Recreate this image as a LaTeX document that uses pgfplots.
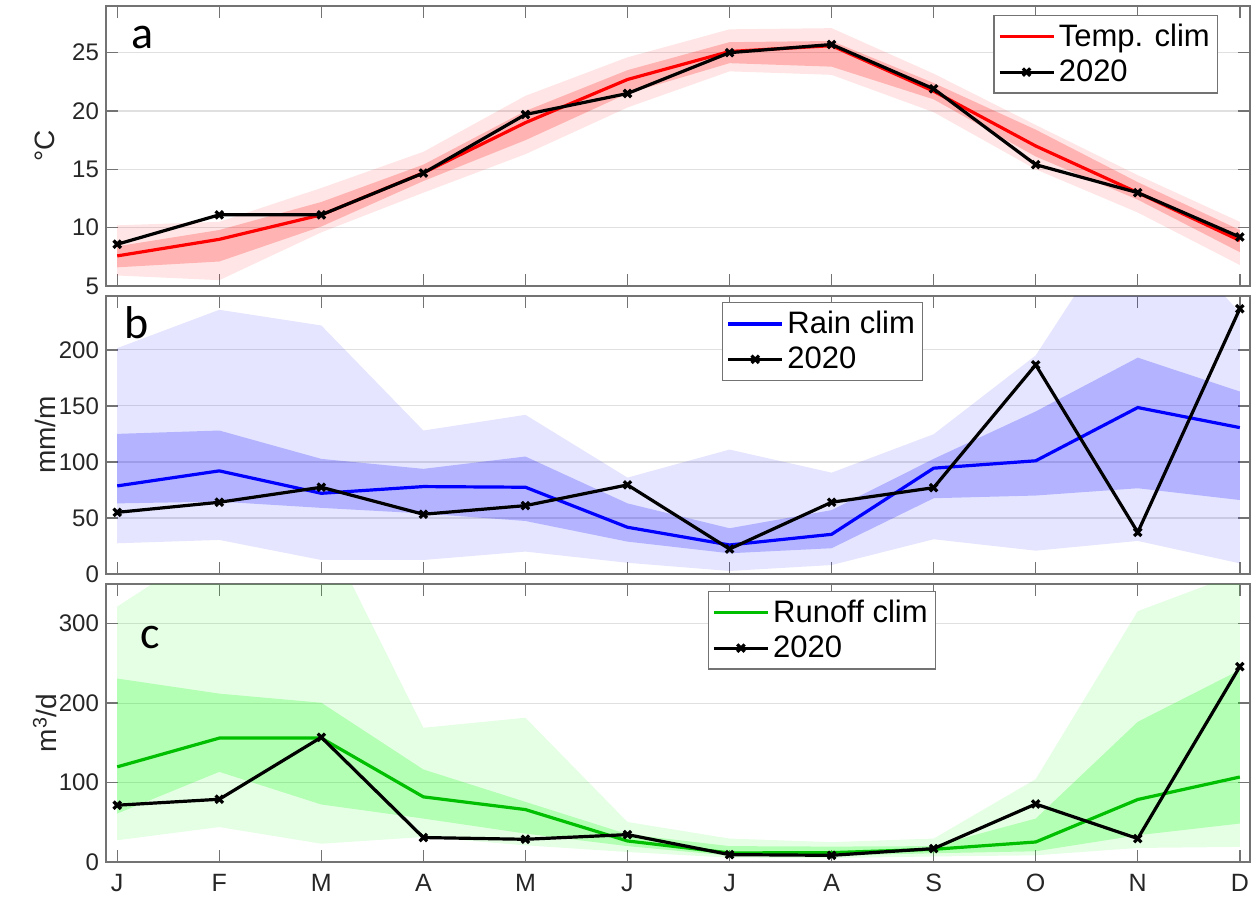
\documentclass[border=0pt]{standalone}
\usepackage{pgfplots}
\pgfplotsset{compat=1.18}
\usepackage{pgfplotstable}
\usepgfplotslibrary{fillbetween}
\usepackage{fontspec}
\setmainfont{Liberation Sans}
\newfontfamily\calib{Carlito}

\definecolor{rline}{rgb}{1,0,0}
\definecolor{bline}{rgb}{0,0,1}
\definecolor{gline}{rgb}{0,0.75,0}
\definecolor{gfill}{rgb}{0,1,0}
\definecolor{axgray}{rgb}{0.45,0.45,0.45}
\definecolor{tickgray}{rgb}{0.15,0.15,0.15}

\pgfplotstableread{
x clim llo lhi dlo dhi y20
1 7.58 5.9 10.2 6.6 8.4 8.58
2 9.0 5.5 10.5 7.1 9.8 11.1
3 11.1 9.6 13.4 10.1 12.2 11.1
4 14.7 13.0 16.5 14.0 15.4 14.68
5 19.0 16.3 21.3 17.5 20.0 19.7
6 22.7 20.3 24.6 21.5 23.5 21.5
7 25.1 23.4 27.0 24.1 25.9 25.0
8 25.6 23.1 27.1 23.8 26.0 25.7
9 21.7 19.9 23.2 21.0 22.4 21.9
10 17.0 15.0 18.8 16.1 18.4 15.4
11 13.0 11.3 14.5 12.4 13.9 13.0
12 8.9 6.8 10.5 7.9 9.8 9.2
}\Ttab

\pgfplotstableread{
x clim llo lhi dlo dhi y20
1 78.6 27.4 201.5 63 125 55
2 92 30.4 235.7 64.6 128 64
3 72 12.5 221.7 59 102.7 77.4
4 78 12.5 128 54 93.8 53.3
5 77.4 20 142 47.3 104.8 61
6 41.7 10 86 28.9 63 79.5
7 25.9 2.7 111 18.5 40.8 22.3
8 35.4 8 90.4 23 57 64
9 94.4 31 124.7 67.6 102.7 77
10 101 20.8 195 70 145 186.6
11 148.5 29.5 335 76.5 193 37.2
12 130.6 9.5 233 66 162.8 236.6
}\Rtab

\pgfplotstableread{
x clim llo lhi dlo dhi y20
1 119.8 27.4 321.6 61 231 71.5
2 156 44 405 113.5 212 79
3 156 23 427 72.4 200.5 157
4 82 31.5 169 54.7 116.5 30.8
5 66 21 181.6 35.8 75.7 28.6
6 26.5 12.6 50.4 20 35 34.5
7 11.4 5.5 29.5 8 20 9.3
8 11.8 5 25 8 19.4 8.4
9 16 7 29.5 11 20 16.9
10 25.2 8.4 104.3 13.5 54.7 73
11 78.7 17.7 315.8 33.7 176.5 29.5
12 107 19 364 48.4 241.7 246
}\Qtab

\pgfplotsset{
  panel/.style={
    scale only axis, width=572pt,
    xmin=0.89, xmax=12.1,
    xtick={1,2,...,12},
    tick align=inside,
    major tick length=6pt,
    ymajorgrids=true, xmajorgrids=false,
    grid style={black!12, line width=0.6pt},
    axis line style={axgray, line width=0.7pt},
    tick style={axgray, line width=0.7pt},
    tick label style={font=\fontsize{12}{13}\selectfont, text=tickgray},
    /pgf/number format/assume math mode=true,
    ylabel style={font=\fontsize{14}{15}\selectfont, text=tickgray, at={(axis description cs:-0.0533,0.5)}, anchor=center},
    legend cell align=left,
    legend image code/.code={\draw[mark repeat=2,mark phase=2,##1] plot coordinates {(0pt,0pt) (13.5pt,0pt) (27pt,0pt)};},
    legend style={draw=axgray, line width=0.6pt, font=\fontsize{15.5}{16}\selectfont,
      inner xsep=2pt, inner ysep=2.5pt, row sep=1.5pt,
      nodes={inner sep=1.8pt}},
  },
  climline/.style={line width=1.6pt},
  yrline/.style={black, line width=1.6pt, mark=x, mark size=2.6pt, mark options={line width=1.6pt}},
}

\begin{document}
\begin{tikzpicture}

% ---------- panel a ----------
\begin{axis}[panel, at={(53pt,-3pt)}, anchor=north west, height=140pt,
  ymin=5, ymax=29, ytick={5,10,15,20,25}, xticklabels={},
  ylabel={°C},
  legend style={at={(0.972,0.968)}, anchor=north east}]
\addplot[name path=alo, draw=none, forget plot] table[x=x,y=llo]{\Ttab};
\addplot[name path=ahi, draw=none, forget plot] table[x=x,y=lhi]{\Ttab};
\addplot[name path=adlo, draw=none, forget plot] table[x=x,y=dlo]{\Ttab};
\addplot[name path=adhi, draw=none, forget plot] table[x=x,y=dhi]{\Ttab};
\addplot[fill=red, fill opacity=0.1, draw=none, forget plot] fill between[of=alo and ahi];
\addplot[fill=red, fill opacity=0.22, draw=none, forget plot] fill between[of=adlo and adhi];
\addplot[rline, climline] table[x=x,y=clim]{\Ttab};
\addplot[yrline] table[x=x,y=y20]{\Ttab};
\legend{Temp. clim, 2020}
\node[font=\calib\fontsize{23}{23}\selectfont] at (axis description cs:0.0315,0.889) {a};
\end{axis}

% ---------- panel b ----------
\begin{axis}[panel, at={(53pt,-148pt)}, anchor=north west, height=139pt,
  ymin=0, ymax=248, ytick={0,50,100,150,200}, xticklabels={},
  ylabel={mm/m},
  legend style={at={(0.5385,0.978)}, anchor=north west}]
\addplot[name path=blo, draw=none, forget plot] table[x=x,y=llo]{\Rtab};
\addplot[name path=bhi, draw=none, forget plot] table[x=x,y=lhi]{\Rtab};
\addplot[name path=bdlo, draw=none, forget plot] table[x=x,y=dlo]{\Rtab};
\addplot[name path=bdhi, draw=none, forget plot] table[x=x,y=dhi]{\Rtab};
\addplot[fill=blue, fill opacity=0.1, draw=none, forget plot] fill between[of=blo and bhi];
\addplot[fill=blue, fill opacity=0.22, draw=none, forget plot] fill between[of=bdlo and bdhi];
\addplot[bline, climline] table[x=x,y=clim]{\Rtab};
\addplot[yrline] table[x=x,y=y20]{\Rtab};
\legend{Rain clim, 2020}
\node[font=\calib\fontsize{23}{23}\selectfont] at (axis description cs:0.027,0.903) {b};
\end{axis}

% ---------- panel c ----------
\begin{axis}[panel, at={(53pt,-292pt)}, anchor=north west, height=139pt,
  ymin=0, ymax=350, ytick={0,100,200,300},
  xticklabels={J,F,M,A,M,J,J,A,S,O,N,D},
  xticklabel style={yshift=-2.5pt, font=\fontsize{12.5}{13}\selectfont},
  ylabel={m\textsuperscript{3}/d},
  legend style={at={(0.526,0.975)}, anchor=north west}]
\addplot[name path=clo, draw=none, forget plot] table[x=x,y=llo]{\Qtab};
\addplot[name path=chi, draw=none, forget plot] table[x=x,y=lhi]{\Qtab};
\addplot[name path=cdlo, draw=none, forget plot] table[x=x,y=dlo]{\Qtab};
\addplot[name path=cdhi, draw=none, forget plot] table[x=x,y=dhi]{\Qtab};
\addplot[fill=gfill, fill opacity=0.1, draw=none, forget plot] fill between[of=clo and chi];
\addplot[fill=gfill, fill opacity=0.22, draw=none, forget plot] fill between[of=cdlo and cdhi];
\addplot[gline, climline] table[x=x,y=clim]{\Qtab};
\addplot[yrline] table[x=x,y=y20]{\Qtab};
\legend{Runoff clim, 2020}
\node[font=\calib\fontsize{23}{23}\selectfont] at (axis description cs:0.0385,0.809) {c};
\end{axis}

\pgfresetboundingbox
\useasboundingbox (0,0) rectangle (629pt,-449.5pt);
\end{tikzpicture}
\end{document}
